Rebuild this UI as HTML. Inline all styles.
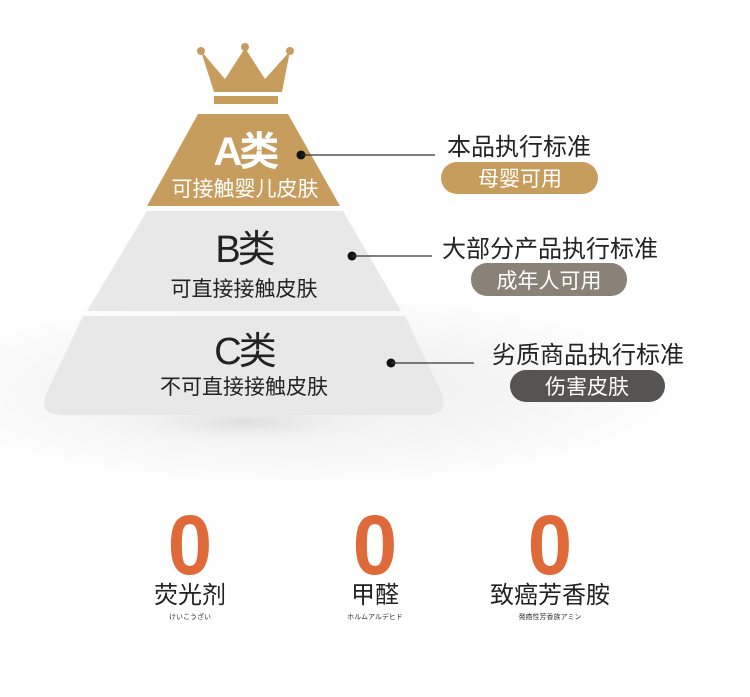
<!DOCTYPE html>
<html><head><meta charset="utf-8"><style>
body{margin:0;width:750px;height:697px;background:#fff;overflow:hidden;font-family:"Liberation Sans","Noto Sans CJK SC",sans-serif}
</style></head><body>
<svg width="750" height="697" xmlns="http://www.w3.org/2000/svg" style="position:absolute;left:0;top:0;font-family:'Liberation Sans','Noto Sans CJK SC',sans-serif">
<defs>
<radialGradient id="sh" cx="0.5" cy="0.5" r="0.5">
<stop offset="0" stop-color="#ececec"/><stop offset="0.6" stop-color="#f6f6f6"/><stop offset="1" stop-color="#fff"/>
</radialGradient>
<radialGradient id="sh2" cx="0.5" cy="0.5" r="0.5">
<stop offset="0" stop-color="#dedede"/><stop offset="1" stop-color="#fff" stop-opacity="0"/>
</radialGradient>
</defs>
<ellipse cx="300" cy="390" rx="400" ry="100" fill="url(#sh)"/>
<ellipse cx="245" cy="422" rx="190" ry="30" fill="url(#sh2)"/>
<!-- crown -->
<polygon points="201,51 214,92 282,92 290,51 265,79 245,48 225,79" fill="#c79d5e"/>
<circle cx="201" cy="51" r="4" fill="#c79d5e"/><circle cx="245" cy="47" r="4" fill="#c79d5e"/><circle cx="290" cy="51" r="4" fill="#c79d5e"/>
<rect x="214" y="96" width="64" height="8" fill="#c79d5e"/>
<!-- A -->
<polygon points="198,114 288,114 340,206 147,206" fill="#c79d5e"/>
<text x="245" y="165" text-anchor="middle" font-size="40" font-weight="bold" fill="#fff" letter-spacing="-3">A类</text>
<text x="245" y="196" text-anchor="middle" font-size="21" fill="#fff">可接触婴儿皮肤</text>
<!-- B -->
<polygon points="147,211 343,211 401,311 87,311" fill="#e8e8e8"/>
<text x="244" y="262" text-anchor="middle" font-size="38" fill="#222" letter-spacing="-3">B类</text>
<text x="244" y="296" text-anchor="middle" font-size="21" fill="#222">可直接接触皮肤</text>
<!-- C -->
<path d="M83,316 L405,316 L441,392 Q450,415 425,415 L62,415 Q37,415 47,392 Z" fill="#e8e8e8"/>
<text x="244" y="364" text-anchor="middle" font-size="38" fill="#222" letter-spacing="-3">C类</text>
<text x="244" y="394" text-anchor="middle" font-size="21" fill="#222">不可直接接触皮肤</text>
<!-- connectors -->
<circle cx="301" cy="155" r="4.5" fill="#111"/><line x1="301" y1="155" x2="435" y2="155" stroke="#333" stroke-width="1.3"/>
<circle cx="352" cy="256" r="4.5" fill="#111"/><line x1="352" y1="256" x2="432" y2="256" stroke="#333" stroke-width="1.3"/>
<circle cx="391" cy="363" r="4.5" fill="#111"/><line x1="391" y1="363" x2="474" y2="363" stroke="#333" stroke-width="1.3"/>
<!-- labels -->
<text x="447" y="155" font-size="24" fill="#222">本品执行标准</text>
<rect x="441" y="162" width="157" height="32" rx="16" fill="#c79d5e"/>
<text x="520" y="186" text-anchor="middle" font-size="21" fill="#fff">母婴可用</text>
<text x="442" y="257" font-size="24" fill="#222">大部分产品执行标准</text>
<rect x="471" y="263" width="156" height="33" rx="16" fill="#8a8177"/>
<text x="549" y="288" text-anchor="middle" font-size="21" fill="#fff">成年人可用</text>
<text x="492" y="363" font-size="24" fill="#222">劣质商品执行标准</text>
<rect x="510" y="370" width="155" height="32" rx="16" fill="#555453"/>
<text x="587" y="394" text-anchor="middle" font-size="21" fill="#fff">伤害皮肤</text>
<!-- zeros -->
<g font-size="84" font-weight="bold" fill="#e0693a" text-anchor="middle">
<text x="190" y="574" transform="translate(190 0) scale(0.95 1) translate(-190 0)">0</text>
<text x="375" y="574" transform="translate(375 0) scale(0.95 1) translate(-375 0)">0</text>
<text x="550" y="574" transform="translate(550 0) scale(0.95 1) translate(-550 0)">0</text>
</g>
<g font-size="24" fill="#222" text-anchor="middle">
<text x="190" y="603">荧光剂</text><text x="375" y="603">甲醛</text><text x="550" y="603">致癌芳香胺</text>
</g>
<g font-size="7" fill="#333" text-anchor="middle">
<text x="190" y="619">けいこうざい</text><text x="375" y="619">ホルムアルデヒド</text><text x="550" y="619">発癌性芳香族アミン</text>
</g>
</svg>
</body></html>
